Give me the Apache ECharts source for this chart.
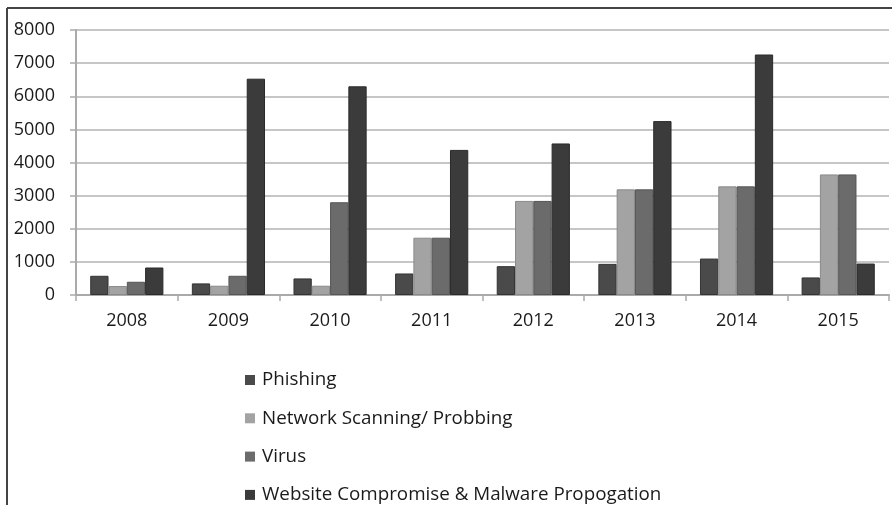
<!DOCTYPE html>
<html>
<head>
<meta charset="utf-8">
<script src="https://cdn.jsdelivr.net/npm/echarts@6/dist/echarts.min.js"></script>
<style>html,body{margin:0;padding:0;background:#fff;}#c{width:892px;height:505px;}</style>
</head>
<body>
<div id="c"></div>
<script>
var years = ['2008','2009','2010','2011','2012','2013','2014','2015'];
var phishing = [580, 350, 500, 650, 870, 940, 1100, 530];
var scanning = [270, 280, 280, 1730, 2840, 3190, 3280, 3640];
var virus = [400, 580, 2800, 1730, 2840, 3190, 3280, 3640];
var website = [830, 6530, 6300, 4380, 4575, 5250, 7260, 950];
var seriesNames = ['Phishing', 'Network Scanning/ Probbing', 'Virus', 'Website Compromise & Malware Propogation'];
var yTicks = [0, 1000, 2000, 3000, 4000, 5000, 6000, 7000, 8000];

var colors = ['#4a4a4a', '#a3a3a3', '#6b6b6b', '#3b3b3b'];
var borders = ['#333333', '#8a8a8a', '#555555', '#2a2a2a'];
var font = '"Open Sans", sans-serif';

var chart = echarts.init(document.getElementById('c'));
var data = [phishing, scanning, virus, website];
chart.setOption({
  animation: false,
  backgroundColor: '#fff',
  grid: {left: 76, right: 3, top: 30, bottom: 210, containLabel: false},
  legend: {
    orient: 'vertical', left: 245, top: 370, height: 160, padding: 0,
    itemWidth: 10, itemHeight: 10, itemGap: 18.3,
    icon: 'rect',
    itemStyle: {borderWidth: 0},
    data: seriesNames,
    textStyle: {fontFamily: font, fontSize: 18.8, color: '#1a1a1a', lineHeight: 20, padding: [0,0,0,2]}
  },
  xAxis: {
    type: 'category', data: years,
    axisLine: {lineStyle: {color: '#aaaaaa', width: 2}},
    axisTick: {show: true, length: 6, lineStyle: {color: '#aaaaaa', width: 1.5}},
    axisLabel: {fontFamily: font, fontSize: 18, color: '#1a1a1a', margin: 17}
  },
  yAxis: {
    type: 'value', min: yTicks[0], max: yTicks[yTicks.length-1], interval: 1000,
    axisLine: {show: true, lineStyle: {color: '#aaaaaa', width: 2}},
    axisTick: {show: true, length: 6, lineStyle: {color: '#aaaaaa', width: 1.5}},
    splitLine: {lineStyle: {color: '#b3b3b3', width: 1.5}},
    axisLabel: {fontFamily: font, fontSize: 18, color: '#1a1a1a', margin: 21, formatter: function(v){ return String(v); }}
  },
  series: seriesNames.map(function(n, i){
    return {
      name: n, type: 'bar', data: data[i],
      barGap: '0%', barCategoryGap: '28%',
      itemStyle: {color: colors[i], borderColor: borders[i], borderWidth: 1}
    };
  }),
  graphic: [
    {type: 'line', shape: {x1: 7, y1: 8, x2: 892, y2: 8}, style: {stroke: '#444', lineWidth: 2}},
    {type: 'line', shape: {x1: 7, y1: 8, x2: 7, y2: 505}, style: {stroke: '#444', lineWidth: 2}}
  ]
});
</script>
</body>
</html>
